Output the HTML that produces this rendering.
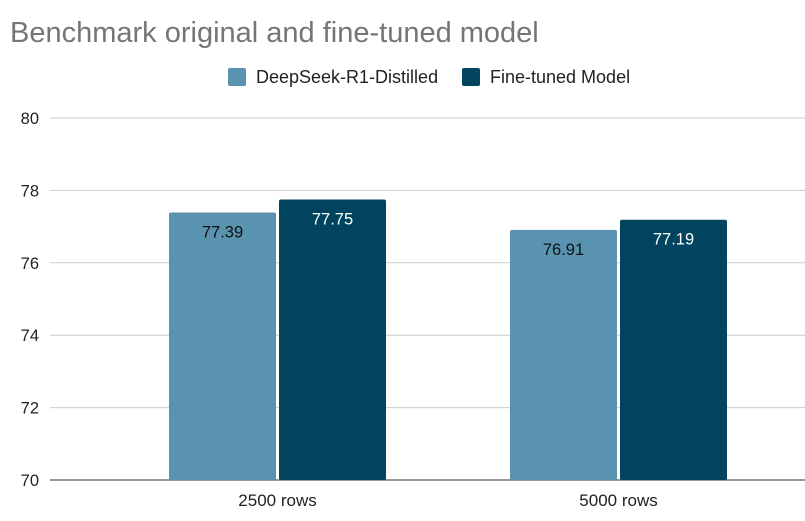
<!DOCTYPE html>
<html><head><meta charset="utf-8"><style>
body{margin:0;background:#fff;}
svg{display:block;font-family:"Liberation Sans",Arial,sans-serif;}
</style></head><body>
<svg id="chart" width="805" height="521" viewBox="0 0 805 521">
<rect width="805" height="521" fill="#fff"/>
<text x="10" y="42" font-size="29" fill="#757575">Benchmark original and fine-tuned model</text>
<g>
<rect x="228" y="68" width="18" height="18" rx="2" fill="#5993b0"/>
<text x="256" y="83" font-size="18" fill="#222">DeepSeek-R1-Distilled</text>
<rect x="462" y="68" width="18" height="18" rx="2" fill="#01445f"/>
<text x="490" y="83" font-size="18" fill="#222">Fine-tuned Model</text>
</g>
<g id="grid"></g><g id="bars"></g><g id="labels"></g>
</svg>
<script>
const categories=["2500 rows","5000 rows"];
const seriesNames=["DeepSeek-R1-Distilled","Fine-tuned Model"];
const deepseek=[77.39,76.91];
const finetuned=[77.75,77.19];
const yTicks=[70,72,74,76,78,80];
const colors=["#5993b0","#01445f"];
const NS="http://www.w3.org/2000/svg";
const y0=480,y1=118,vmin=70,vmax=80,gridLeft=50,right=805;
const plotLeft=107,groupW=341;
const yScale=v=>y0-(v-vmin)/(vmax-vmin)*(y0-y1);
const xCenter=i=>plotLeft+groupW*(i+0.5);
function mk(t,a,p){const e=document.createElementNS(NS,t);for(const k in a)e.setAttribute(k,a[k]);p.appendChild(e);return e;}
const grid=document.getElementById('grid'),bars=document.getElementById('bars'),labels=document.getElementById('labels');
yTicks.forEach(t=>{
 const l=mk('line',{x1:gridLeft,x2:right,y1:yScale(t),y2:yScale(t),stroke:t===vmin?'#333':'#ccc','stroke-width':1},grid);
 
 
 const tx=mk('text',{x:39,y:yScale(t)+6,'font-size':16.5,fill:'#222','text-anchor':'end'},grid);
 tx.textContent=t;
 
 
});
const series=[deepseek,finetuned];
const bw=107,gap=3;
categories.forEach((c,i)=>{
 series.forEach((s,j)=>{
  const x=xCenter(i)-bw-gap/2+j*(bw+gap);
  const r=mk('rect',{x:x,y:yScale(s[i]),width:bw,height:y0-yScale(s[i]),fill:colors[j],rx:2},bars);
  
  
  const t=mk('text',{x:x+bw/2,y:yScale(s[i])+25,'font-size':16.5,fill:j?'#fff':'#111','text-anchor':'middle'},labels);
  t.textContent=s[i].toFixed(2);
  
  
 });
 const xl=mk('text',{x:xCenter(i),y:506,'font-size':17,fill:'#222','text-anchor':'middle'},labels);
 xl.textContent=c;
 
 
});
</script>
</body></html>
